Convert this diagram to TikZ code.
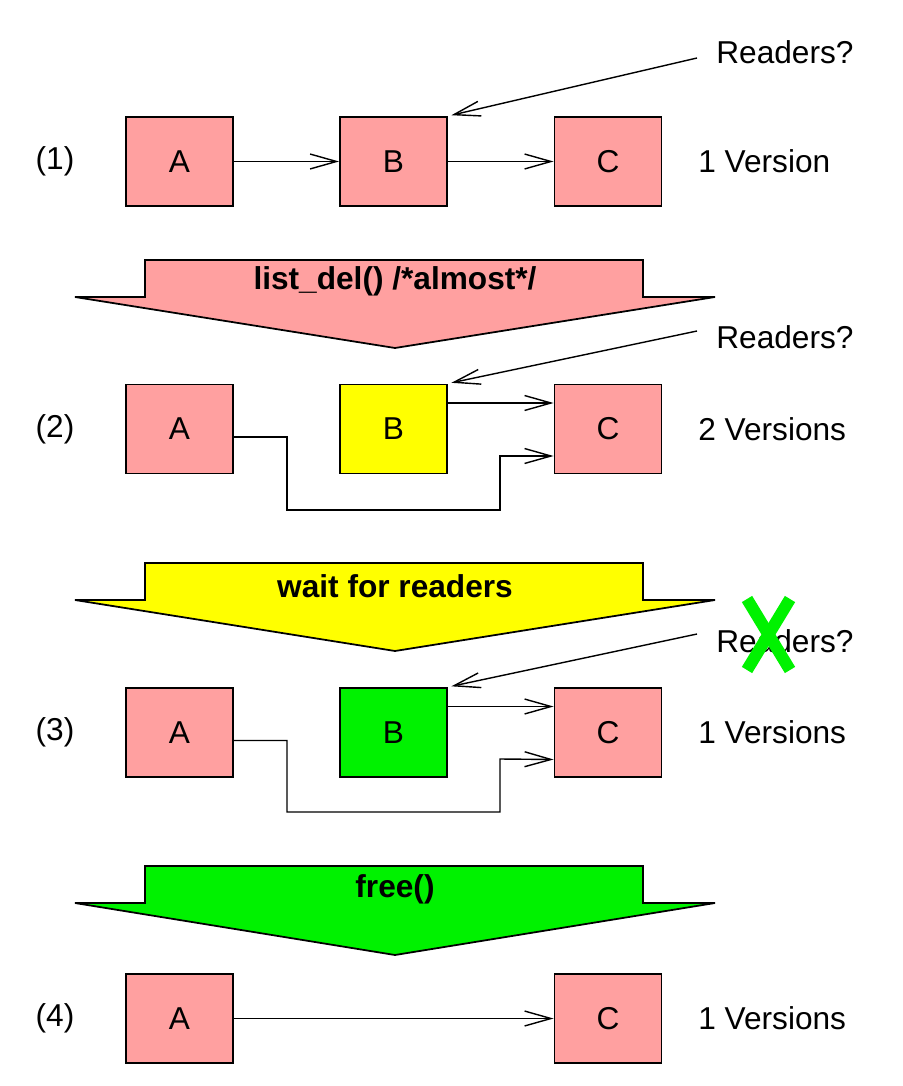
\documentclass[tikz,border=0pt]{standalone}
\usepackage{fontspec}
\setmainfont{Liberation Sans}
\usetikzlibrary{arrows.meta}
\definecolor{pinkc}{RGB}{255,160,160}
\definecolor{yellowc}{RGB}{255,255,0}
\definecolor{greenc}{RGB}{0,242,0}
\begin{document}
\begin{tikzpicture}[every node/.style={font=\fontsize{18}{21}\selectfont},
  box/.style={draw,line width=1.1pt,minimum width=2.14cm,minimum height=1.78cm,inner sep=0pt},
  link/.style={line width=0.8pt,-{Straight Barb[length=15pt,width=8.5pt]}},
  bigarrow/.style={draw,line width=1pt},
  oplabel/.style={font=\fontsize{18}{21}\selectfont\bfseries},
  side/.style={anchor=west,inner sep=0pt}]
  \useasboundingbox (0,0) rectangle (18.04,-21.72);
  % row 1
  \node (n1) at (1.1,-3.23) {(1)};
  \node[box,fill=pinkc] (a1) at (3.59,-3.23) {A};
  \node[box,fill=pinkc] (b1) at (7.87,-3.23) {B};
  \node[box,fill=pinkc] (c1) at (12.16,-3.23) {C};
  \node[side] (v1) at (13.96,-3.23) {1 Version};
  \node[side] (rd1) at (14.32,-1.04) {Readers?};
  \coordinate (rs1) at (13.94,-1.16);
  \draw[link] (a1) -- (b1);
  \draw[link] (b1) -- (c1);
  \draw[link,shorten >=2pt] (rs1) -- (b1.north east);
  % list_del
  \draw[bigarrow,fill=pinkc] (2.9,-5.2) -- (12.86,-5.2) -- (12.86,-5.94) -- (14.3,-5.94)
    -- (7.9,-6.96) -- (1.5,-5.94) -- (2.9,-5.94) -- cycle;
  \node[oplabel] (op1) at (7.9,-5.62) {list\_del() /*almost*/};
  % row 2
  \node (n2) at (1.1,-8.58) {(2)};
  \node[box,fill=pinkc] (a2) at (3.59,-8.58) {A};
  \node[box,fill=yellowc] (b2) at (7.87,-8.58) {B};
  \node[box,fill=pinkc] (c2) at (12.16,-8.58) {C};
  \node[side] (v2) at (13.96,-8.58) {2 Versions};
  \node[side] (rd2) at (14.32,-6.74) {Readers?};
  \coordinate (rs2) at (13.94,-6.62);
  \draw[link] ([yshift=0.52cm]b2.east) -- ([yshift=0.52cm]c2.west);
  \draw[link] ([yshift=-0.16cm]a2.east) -| (5.74,-10.2) -| (10,-9.12) -- ([yshift=-0.54cm]c2.west);
  \draw[link,shorten >=2pt] (rs2) -- (b2.north east);
  % wait for readers
  \draw[bigarrow,fill=yellowc] (2.9,-11.26) -- (12.86,-11.26) -- (12.86,-12) -- (14.3,-12)
    -- (7.9,-13.02) -- (1.5,-12) -- (2.9,-12) -- cycle;
  \node[oplabel] (op2) at (7.9,-11.72) {wait for readers};
  % row 3
  \node (n3) at (1.1,-14.65) {(3)};
  \node[box,fill=pinkc] (a3) at (3.59,-14.65) {A};
  \node[box,fill=greenc] (b3) at (7.87,-14.65) {B};
  \node[box,fill=pinkc] (c3) at (12.16,-14.65) {C};
  \node[side] (v3) at (13.96,-14.65) {1 Versions};
  \node[side] (rd3) at (14.32,-12.82) {Readers?};
  \coordinate (rs3) at (13.94,-12.68);
  \draw[link] ([yshift=0.52cm]b3.east) -- ([yshift=0.52cm]c3.west);
  \draw[link] ([yshift=-0.16cm]a3.east) -| (5.74,-16.24) -| (10,-15.18) -- ([yshift=-0.54cm]c3.west);
  \draw[link,shorten >=2pt] (rs3) -- (b3.north east);
  \draw[greenc,line width=0.24cm] (14.94,-11.98) -- (15.8,-13.4);
  \draw[greenc,line width=0.24cm] (15.8,-11.98) -- (14.94,-13.4);
  % free
  \draw[bigarrow,fill=greenc] (2.9,-17.32) -- (12.86,-17.32) -- (12.86,-18.06) -- (14.3,-18.06)
    -- (7.9,-19.1) -- (1.5,-18.06) -- (2.9,-18.06) -- cycle;
  \node[oplabel] (op3) at (7.9,-17.78) {free()};
  % row 4
  \node (n4) at (1.1,-20.37) {(4)};
  \node[box,fill=pinkc] (a4) at (3.59,-20.37) {A};
  \node[box,fill=pinkc] (c4) at (12.16,-20.37) {C};
  \node[side] (v4) at (13.96,-20.37) {1 Versions};
  \draw[link] (a4) -- (c4);
\end{tikzpicture}
\end{document}
